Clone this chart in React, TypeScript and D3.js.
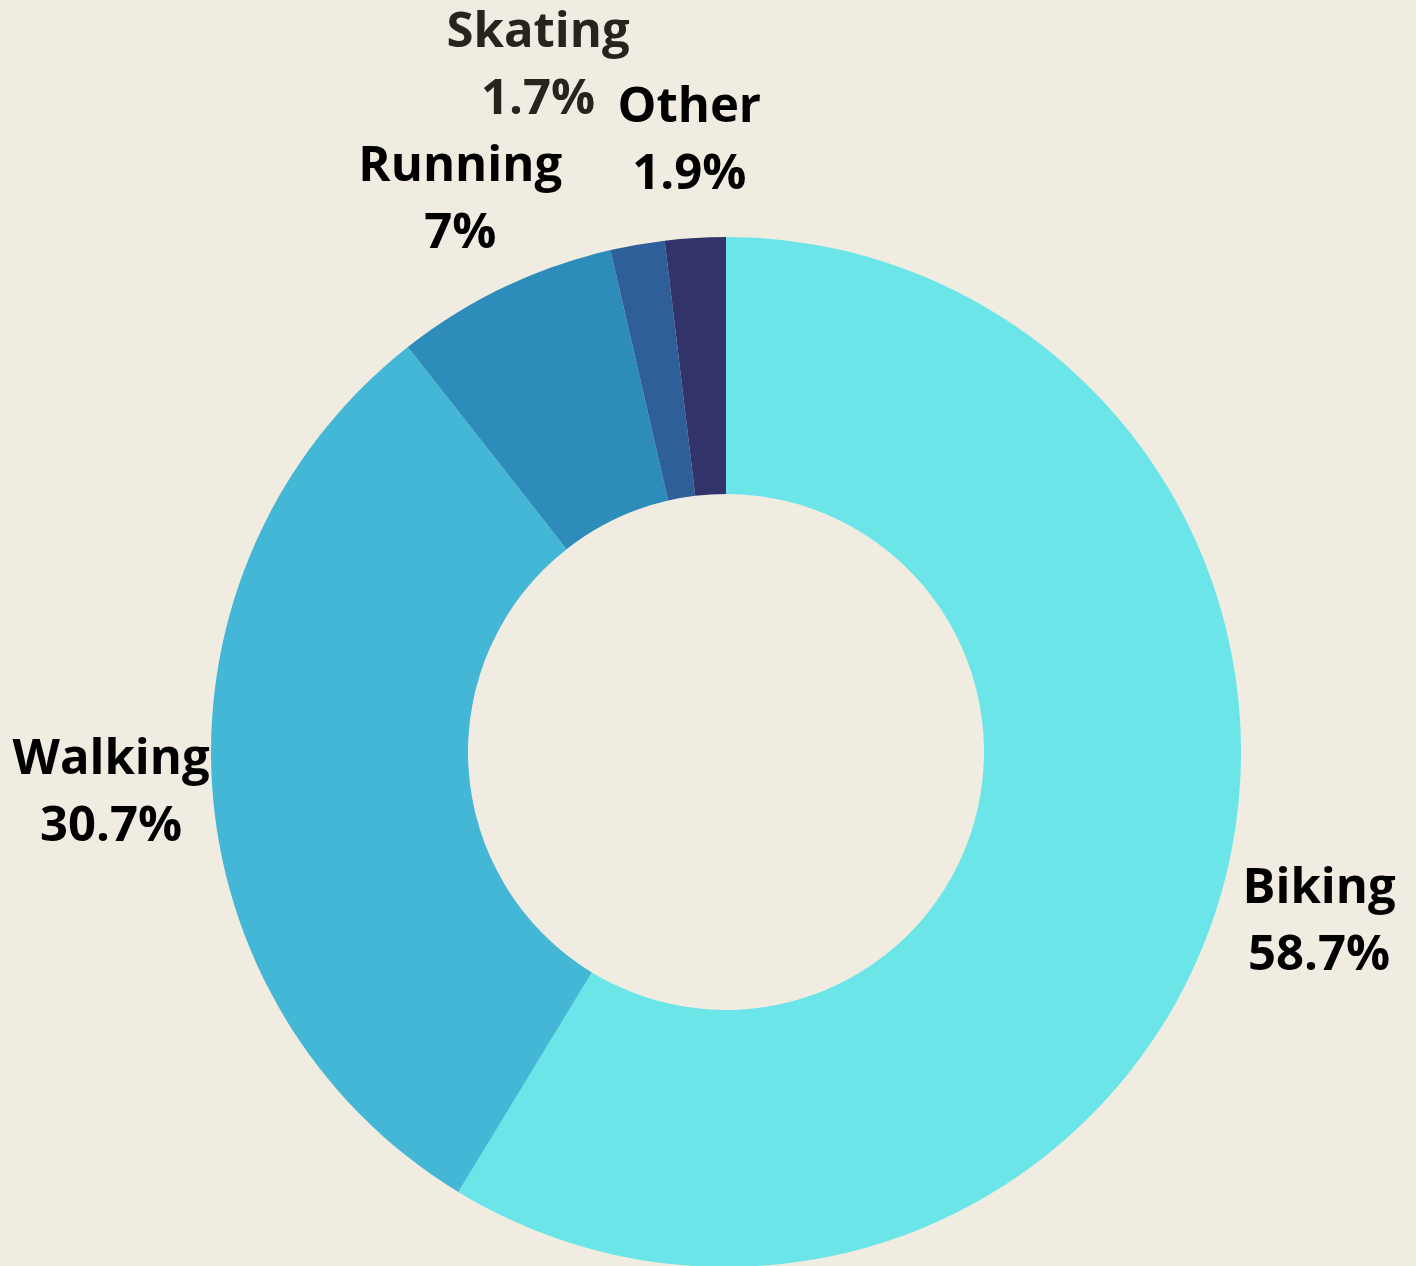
import React from "react";
import * as d3 from "d3";

const categories = ["Biking", "Walking", "Running", "Skating", "Other"];
const values = [58.7, 30.7, 7, 1.7, 1.9];
const colors = ["#6ce5e8", "#43b7d5", "#2e8cba", "#2f5f98", "#31336a"];
const labelColors = ["#000000", "#000000", "#000000", "#27241d", "#000000"];
// label nudges (collision avoidance) in px
const labelNudges: [number, number][] = [[0, 0], [0, 0], [0, 0], [-82, -83], [0, 0]];

const W = 1416;
const H = 1266;
const cx = 726;
const cy = 752;
const outerR = 515;
const innerR = 258;
const labelR = 616;

export default function App() {
  const pie = d3.pie<number>().value((d) => d).sort(null);
  const arcs = pie(values);
  const arcGen = d3.arc<d3.PieArcDatum<number>>().innerRadius(innerR).outerRadius(outerR);
  const labelArc = d3.arc<d3.PieArcDatum<number>>().innerRadius(labelR).outerRadius(labelR);

  return (
    <svg width={W} height={H} style={{ position: "absolute", left: 0, top: 0, background: "#f0ece1" }}>
      <rect x={0} y={0} width={W} height={H} fill="#f0ece1" />
      <g transform={`translate(${cx},${cy})`}>
        {arcs.map((a, i) => (
          <path key={categories[i]} d={arcGen(a) || ""} fill={colors[i]} />
        ))}
        {arcs.map((a, i) => {
          const [lx, ly] = labelArc.centroid(a);
          const x = lx + labelNudges[i][0];
          const y = ly + labelNudges[i][1];
          return (
            <text
              key={"l" + categories[i]}
              x={x}
              y={y}
              textAnchor="middle"
              fontFamily="'Open Sans', sans-serif"
              fontWeight={700}
              fontSize={49}
              fill={labelColors[i]}
            >
              <tspan x={x} y={y - 15}>{categories[i]}</tspan>
              <tspan x={x} y={y + 52}>{`${values[i]}%`}</tspan>
            </text>
          );
        })}
      </g>
    </svg>
  );
}
